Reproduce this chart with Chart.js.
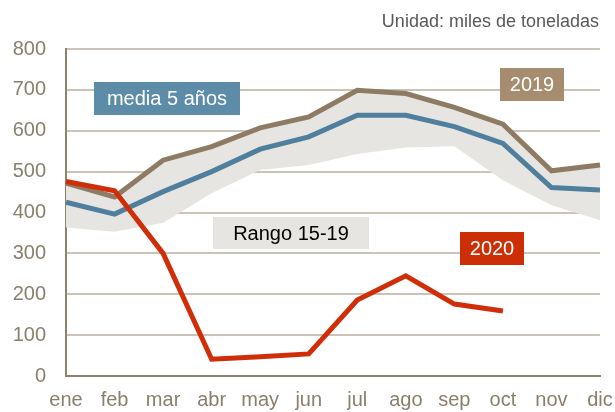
<!DOCTYPE html>
<html>
<head>
<meta charset="utf-8">
<script src="https://cdn.jsdelivr.net/npm/chart.js@4.4.1/dist/chart.umd.min.js"></script>
<style>
    html, body { margin: 0; padding: 0; background: #fff; }
    #wrap { width: 615px; height: 412px; position: relative; }
</style>
</head>
<body>
<div id="wrap"><canvas id="chart"></canvas></div>
<script>
// meses
const months = ['ene', 'feb', 'mar', 'abr', 'may', 'jun', 'jul', 'ago', 'sep', 'oct', 'nov', 'dic'];

// miles de toneladas
const rangeLow  = [363, 353, 375, 447, 504, 516, 543, 559, 562, 479, 418, 381];
const rangeHigh = [478, 438, 528, 561, 607, 634, 699, 691, 657, 616, 502, 516];
const media5    = [425, 396, 451, 500, 555, 585, 638, 638, 610, 569, 461, 455];
const y2019     = [472, 438, 528, 561, 607, 634, 699, 691, 657, 616, 502, 516];
const y2020     = [476, 453, 300, 41, 47, 54, 186, 245, 176, 159, null, null];

const yTicks = [0, 100, 200, 300, 400, 500, 600, 700, 800];

const tickColor = '#8a7f6d';
const FONT = 'Liberation Sans, Arial, sans-serif';

// cajas de texto + unidad
const labelsPlugin = {
    id: 'labelsPlugin',
    afterDraw(chart) {
        const ctx = chart.ctx;
        ctx.save();
        ctx.font = '18px ' + FONT;
        ctx.fillStyle = '#595959';
        ctx.textAlign = 'right';
        ctx.textBaseline = 'middle';
        ctx.fillText('Unidad: miles de toneladas', 599, 22);

        const boxes = [
            { text: 'media 5 años', x: 94, y: 82, w: 146, h: 33, bg: '#5d8ca8', fg: '#fff' },
            { text: '2019', x: 500, y: 68, w: 64, h: 33, bg: '#a68d70', fg: '#fff' },
            { text: 'Rango 15-19', x: 213, y: 217, w: 156, h: 32, bg: '#e7e5e1', fg: '#000' },
            { text: '2020', x: 460, y: 232, w: 64, h: 33, bg: '#cc2f06', fg: '#fff' }
        ];
        ctx.font = '20px ' + FONT;
        ctx.textAlign = 'center';
        boxes.forEach(b => {
            ctx.fillStyle = b.bg;
            ctx.fillRect(b.x, b.y, b.w, b.h);
            ctx.fillStyle = b.fg;
            ctx.fillText(b.text, b.x + b.w / 2, b.y + b.h / 2 + 1);
        });
        ctx.restore();
    }
};

let ctx = document.getElementById('chart').getContext('2d');
let chart = new Chart(ctx, {
    type: 'line',
    data: {
        labels: months,
        datasets: [
            {
                label: 'low',
                data: rangeLow,
                borderWidth: 0,
                pointRadius: 0,
                fill: false,
                order: 4
            },
            {
                label: 'Rango 15-19',
                data: rangeHigh,
                borderWidth: 0,
                pointRadius: 0,
                backgroundColor: '#e7e5e1',
                fill: '-1',
                order: 4
            },
            {
                label: 'media 5 años',
                data: media5,
                borderColor: '#4f7f9c',
                borderWidth: 5,
                pointRadius: 0,
                fill: false,
                order: 3
            },
            {
                label: '2019',
                data: y2019,
                borderColor: '#8e7b63',
                borderWidth: 5,
                pointRadius: 0,
                fill: false,
                order: 2
            },
            {
                label: '2020',
                data: y2020,
                borderColor: '#d02e08',
                borderWidth: 5,
                pointRadius: 0,
                fill: false,
                order: 1
            }
        ]
    },
    options: {
        responsive: true,
        maintainAspectRatio: false,
        animation: false,
        layout: { autoPadding: false, padding: { left: 0, right: 15, top: 49, bottom: 0 } },
        plugins: {
            legend: { display: false },
            tooltip: { enabled: false }
        },
        scales: {
            x: {
                offset: false,
                afterFit: (scale) => {
                    scale.height = 36;
                    scale.paddingLeft = 0;
                    scale.paddingRight = 0;
                },
                grid: { display: false, drawTicks: false },
                border: { display: true, color: '#8c8270', width: 2 },
                ticks: {
                    color: tickColor,
                    font: { family: FONT, size: 20 },
                    padding: 12,
                    maxRotation: 0,
                    autoSkip: false
                }
            },
            y: {
                min: 0,
                max: 800,
                afterBuildTicks: (scale) => { scale.ticks = yTicks.map(v => ({ value: v })); },
                afterFit: (scale) => { scale.width = 66; },
                grid: {
                    drawTicks: false,
                    lineWidth: 2,
                    color: (c) => c.tick && c.tick.value === 0 ? '#8c8270' : '#cbc4b6'
                },
                border: { display: true, color: '#8c8270', width: 2 },
                ticks: {
                    color: tickColor,
                    font: { family: FONT, size: 20 },
                    padding: 20
                }
            }
        }
    },
    plugins: [labelsPlugin]
});
</script>
</body>
</html>
